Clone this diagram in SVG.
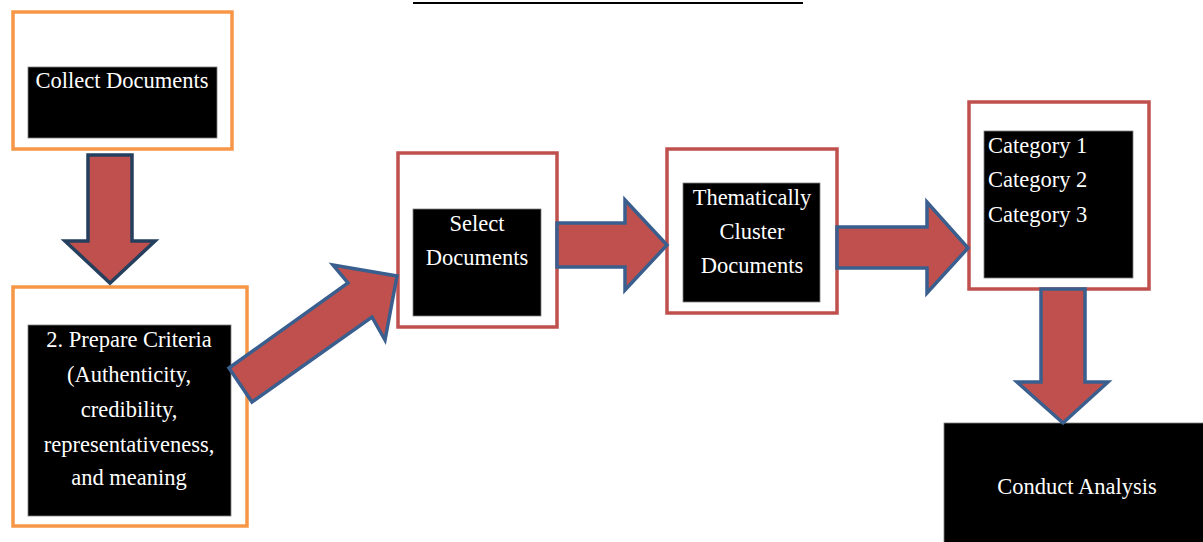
<svg xmlns="http://www.w3.org/2000/svg" width="1203" height="542" viewBox="0 0 1203 542">
<style>
.orange{fill:#fff;stroke:#F79646;stroke-width:3.5}
.red{fill:#fff;stroke:#C0504D;stroke-width:3.5}
.blk{fill:#000;stroke:#7f7f7f;stroke-width:0.8}
.t{font-family:"Liberation Serif","Times New Roman",serif;font-size:22.5px;fill:#fff}
.c{text-anchor:middle}
.arr{fill:#C0504D;stroke:#3A5F8E;stroke-width:3.5;stroke-linejoin:miter}
</style>
<rect width="1203" height="542" fill="#fff"/>
<line x1="413" y1="3" x2="803" y2="3" stroke="#000" stroke-width="2"/>
<g id="collect">
<rect class="orange" x="13" y="12" width="219" height="137"/>
<rect class="blk" x="28" y="67" width="189" height="71"/>
<text class="t c" x="122" y="88">Collect Documents</text>
</g>
<g id="prepare">
<rect class="orange" x="13" y="287" width="234" height="239"/>
<rect class="blk" x="28" y="325" width="203" height="191"/>
<text class="t c" x="129" y="347">2. Prepare Criteria</text>
<text class="t c" x="129" y="382">(Authenticity,</text>
<text class="t c" x="129" y="417">credibility,</text>
<text class="t c" x="129" y="452">representativeness,</text>
<text class="t c" x="129" y="485">and meaning</text>
</g>
<g id="select">
<rect class="red" x="398" y="153" width="159" height="174"/>
<rect class="blk" x="413" y="209" width="128" height="107"/>
<text class="t c" x="477" y="231">Select</text>
<text class="t c" x="477" y="265">Documents</text>
</g>
<g id="cluster">
<rect class="red" x="667" y="149" width="170" height="164"/>
<rect class="blk" x="683" y="183" width="137" height="119"/>
<text class="t c" x="752" y="205">Thematically</text>
<text class="t c" x="752" y="239">Cluster</text>
<text class="t c" x="752" y="273">Documents</text>
</g>
<g id="categories">
<rect class="red" x="969" y="102" width="180" height="187"/>
<rect class="blk" x="984" y="131" width="149" height="147"/>
<text class="t" x="988" y="153">Category 1</text>
<text class="t" x="988" y="187">Category 2</text>
<text class="t" x="988" y="222">Category 3</text>
</g>
<g id="analysis">
<rect class="blk" x="944" y="423" width="262" height="122"/>
<text class="t c" x="1077" y="494">Conduct Analysis</text>
</g>
<g id="connectors">
<polygon class="arr" style="stroke:#253F5E" points="88,155 132,155 132,241 155,241 110,283 65,241 88,241"/>
<polygon class="arr" points="229,368 348,283 333,265 397,276 385,340 372,317 252,402"/>
<polygon class="arr" points="557,223 625,223 625,200 667,245 625,290 625,267 557,267"/>
<polygon class="arr" points="837,227 927,227 927,202 968,248 927,293 927,268 837,268"/>
<polygon class="arr" points="1041,289 1085,289 1085,382 1108,382 1063,423 1017,382 1041,382"/>
</g>
</svg>
